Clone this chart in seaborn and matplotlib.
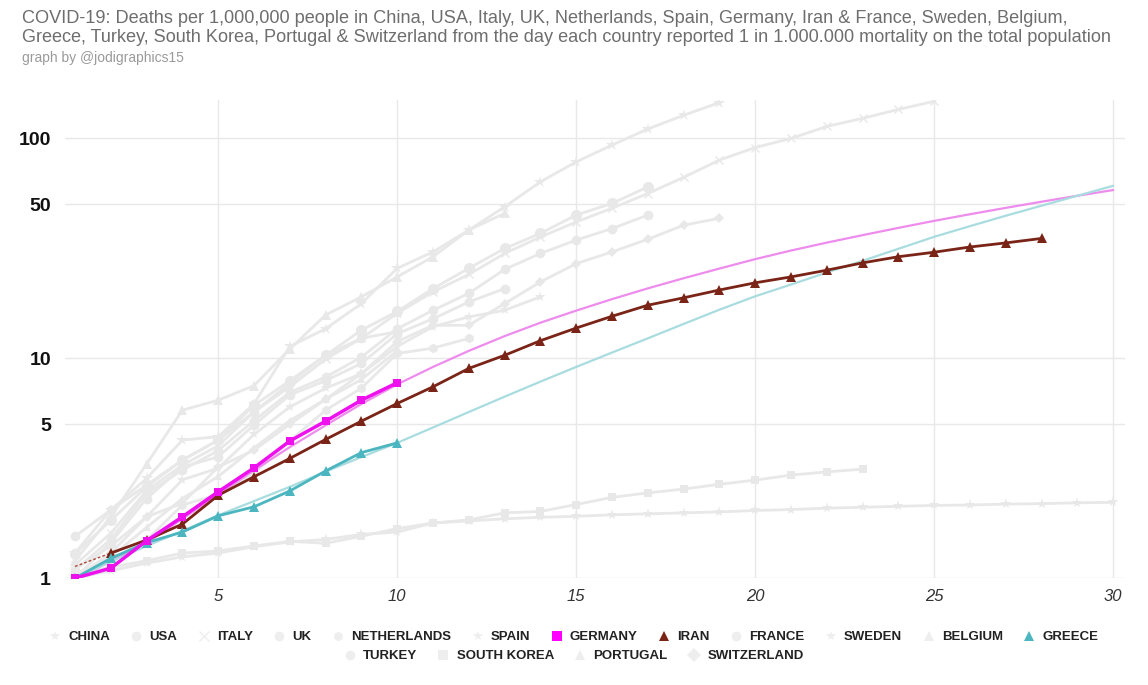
import matplotlib
matplotlib.use("Agg")
import matplotlib.pyplot as plt
import seaborn as sns

# Deaths per 1,000,000 people, day 1 = first day with 1 death per million
china = [1.0, 1.08, 1.17, 1.25, 1.30, 1.39, 1.46, 1.50, 1.58, 1.62, 1.78, 1.82, 1.86, 1.89, 1.91,
         1.94, 1.96, 1.98, 2.0, 2.03, 2.05, 2.08, 2.1, 2.12, 2.14, 2.15, 2.17, 2.18, 2.2, 2.21]
usa = [1.09, 1.5, 2.43, 3.1, 3.8, 5.2, 7.0, 8.2, 10.1, 13.6, 16.5, 19.7, 25.3, 29.9, 34.4, 38.8, 44.7]
italy = [1.15, 1.6, 2.5, 3.26, 4.0, 5.7, 7.4, 9.9, 12.3, 16.0, 20.0, 24.0, 29.9, 35.5, 41.6, 48.0,
         56.0, 66.3, 79.5, 90.6, 99.7, 113, 123, 135, 147]
uk = [1.0, 1.45, 2.3, 3.2, 3.56, 4.96, 6.8, 7.9, 9.46, 12.9, 15.1, 18.0, 20.7]
netherlands = [1.05, 1.2, 1.49, 2.15, 2.4, 3.0, 4.2, 5.8, 7.3, 10.5, 11.1, 12.3]
spain = [1.3, 2.04, 2.84, 4.24, 4.4, 6.2, 11.3, 13.6, 17.7, 25.6, 30.4, 38.2, 48.7, 63.3, 78, 93,
         110, 127, 145]
germany = [1.0, 1.11, 1.48, 1.90, 2.47, 3.17, 4.20, 5.17, 6.44, 7.73]
iran = [1.13, 1.30, 1.49, 1.76, 2.38, 2.89, 3.50, 4.27, 5.17, 6.22, 7.41, 8.98, 10.3, 12.0, 13.7,
        15.5, 17.4, 18.8, 20.4, 22.0, 23.4, 25.1, 27.1, 28.9, 30.3, 32.0, 33.4, 35.0]
france = [1.29, 1.83, 2.6, 3.44, 4.24, 6.1, 7.9, 10.3, 13.4, 16.3, 20.7, 25.6, 31.5, 36.9, 44.7, 50.5, 60.0]
sweden = [1.1, 1.4, 1.9, 2.8, 3.16, 4.5, 6.0, 7.3, 8.5, 11.3, 13.9, 15.4, 16.5, 19.0]
belgium = [1.2, 1.9, 3.3, 5.8, 6.44, 7.5, 11.0, 15.7, 19.0, 23.4, 28.9, 38.2, 45.5]
greece = [1.0, 1.23, 1.45, 1.62, 1.92, 2.11, 2.49, 3.07, 3.72, 4.12]
turkey = [1.55, 2.04, 2.65, 3.44, 4.24, 5.7, 7.7, 10.3, 12.3, 13.2]
south_korea = [1.05, 1.12, 1.2, 1.3, 1.33, 1.4, 1.47, 1.44, 1.55, 1.68, 1.78, 1.84, 1.98, 2.01, 2.16,
               2.33, 2.44, 2.54, 2.67, 2.79, 2.94, 3.04, 3.13]
portugal = [1.0, 1.25, 1.7, 2.3, 2.9, 3.9, 5.2, 6.5, 8.0, 10.8]
switzerland = [1.0, 1.3, 1.9, 2.19, 3.2, 3.82, 5.0, 6.5, 8.5, 11.9, 14.1, 14.1, 17.7, 22.2, 26.9,
               30.4, 34.7, 40.2, 43.2]

# trend lines (days 1..30)
germany_trend = [1.0, 1.19, 1.45, 1.86, 2.40, 3.09, 3.94, 4.95, 6.19, 7.60, 9.12, 10.79, 12.59, 14.49,
                 16.44, 18.54, 20.75, 23.07, 25.53, 28.18, 30.83, 33.50, 36.22, 39.08, 42.07, 45.08,
                 48.19, 51.40, 54.70, 58.08]
greece_trend = [1.0, 1.19, 1.40, 1.64, 1.93, 2.24, 2.60, 3.05, 3.55, 4.12, 4.84, 5.69, 6.68, 7.82, 9.12,
                10.6, 12.3, 14.3, 16.6, 19.1, 21.6, 24.5, 27.7, 31.4, 35.6, 39.8, 44.4, 49.3, 54.7, 60.7]

GREY = "#e8e8e8"
LEG_GREY = "#eeeeee"

sns.set_theme(style="white")
plt.rcParams["font.family"] = ["Liberation Sans", "DejaVu Sans"]

fig = plt.figure(figsize=(11.48, 6.85), dpi=100)
ax = fig.add_axes([0.0566, 0.156, 0.9234, 0.698])


def days(vals):
    return list(range(1, len(vals) + 1))


handles = {}

grey_series = [
    ("CHINA", china, "*", 8),
    ("USA", usa, "o", 7),
    ("ITALY", italy, "x", 6),
    ("UK", uk, "o", 7),
    ("NETHERLANDS", netherlands, "h", 7),
    ("SPAIN", spain, "*", 9),
    ("FRANCE", france, "o", 8),
    ("SWEDEN", sweden, "*", 8),
    ("BELGIUM", belgium, "^", 7),
    ("TURKEY", turkey, "o", 7),
    ("SOUTH KOREA", south_korea, "s", 6),
    ("PORTUGAL", portugal, "^", 6),
    ("SWITZERLAND", switzerland, "D", 5),
]
for name, vals, mk, ms in grey_series:
    sns.lineplot(x=days(vals), y=vals, ax=ax, color=GREY, linewidth=2, marker=mk,
                 markersize=ms, markeredgewidth=1 if mk == "x" else 0, markeredgecolor=GREY,
                 legend=False)
    handles[name] = (mk, LEG_GREY)

# trend lines
sns.lineplot(x=days(germany_trend), y=germany_trend, ax=ax, color="#ee8cee", linewidth=1.6, legend=False)
sns.lineplot(x=days(greece_trend), y=greece_trend, ax=ax, color="#a9dcdf", linewidth=1.6, legend=False)

# highlighted countries
sns.lineplot(x=days(iran)[:2], y=iran[:2], ax=ax, color="#b04a3a", linewidth=1, linestyle=(0, (2, 1.5)),
             legend=False)
sns.lineplot(x=days(iran)[1:], y=iran[1:], ax=ax, color="#7a2417", linewidth=2, marker="^",
             markersize=7, markeredgewidth=0, legend=False)
sns.lineplot(x=days(greece), y=greece, ax=ax, color="#4bb6bf", linewidth=2, marker="^",
             markersize=7, markeredgewidth=0, legend=False)
sns.lineplot(x=days(germany), y=germany, ax=ax, color="#ee11ee", linewidth=2.5, marker="s",
             markersize=6, markeredgewidth=0, legend=False)
handles["GERMANY"] = ("s", "#ff00ff")
handles["IRAN"] = ("^", "#7a2417")
handles["GREECE"] = ("^", "#4bb6bf")

ax.set_yscale("log")
ax.set_xlim(0.72, 30.33)
ax.set_ylim(1, 149)
ax.set_yticks([1, 5, 10, 50, 100])
ax.set_yticklabels(["1", "5", "10", "50", "100"])
ax.set_xticks([5, 10, 15, 20, 25, 30])
ax.minorticks_off()
ax.grid(True, color="#e8e8e8", linewidth=1)
ax.set_axisbelow(True)
for s in ax.spines.values():
    s.set_visible(False)
ax.tick_params(axis="y", length=0, pad=10, labelsize=14, labelcolor="#111111")
ax.tick_params(axis="x", length=0, pad=8, labelsize=12, labelcolor="#333333")
for t in ax.get_yticklabels():
    t.set_fontweight("bold")
for t in ax.get_xticklabels():
    t.set_fontstyle("italic")
ax.set_xlabel("")
ax.set_ylabel("")

fig.text(0.019, 0.986,
         "COVID-19: Deaths per 1,000,000 people in China, USA, Italy, UK, Netherlands, Spain, Germany, "
         "Iran & France, Sweden, Belgium,\nGreece, Turkey, South Korea, Portugal & Switzerland from the day "
         "each country reported 1 in 1.000.000 mortality on the total population",
         ha="left", va="top", fontsize=13.1, color="#6e6e6e", linespacing=1.2)
fig.text(0.019, 0.925, "graph by @jodigraphics15", ha="left", va="top", fontsize=10, color="#9a9a9a")

row1 = ["CHINA", "USA", "ITALY", "UK", "NETHERLANDS", "SPAIN", "GERMANY", "IRAN", "FRANCE",
        "SWEDEN", "BELGIUM", "GREECE"]
row2 = ["TURKEY", "SOUTH KOREA", "PORTUGAL", "SWITZERLAND"]


def legend_row(names, y):
    hs = [plt.Line2D([], [], linestyle="none", marker=handles[n][0], color=handles[n][1],
                     markersize=7, markeredgewidth=1 if handles[n][0] == "x" else 0)
          for n in names]
    leg = fig.legend(hs, names, loc="center", bbox_to_anchor=(0.5, y), ncol=len(names),
                     frameon=False, handlelength=0.8, handletextpad=0.6, columnspacing=1.6,
                     prop={"weight": "bold", "size": 9.5})
    for t in leg.get_texts():
        t.set_color("#222222")
    return leg


legend_row(row1, 1 - 637 / 685)
legend_row(row2, 1 - 656 / 685)

fig.savefig("out.png", dpi=100)
